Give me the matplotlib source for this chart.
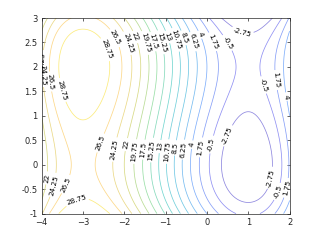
import numpy as np
import matplotlib
matplotlib.use('Agg')
import matplotlib.pyplot as plt
from matplotlib.colors import LinearSegmentedColormap

# f(x, y) = px(x) + py(y), cubic coefficients (highest power first)
x_coef = [1, 3, -9, 0]
y_coef = [-1, 3, 0, 0]
x_range = [-4, 2]
y_range = [-1, 3]
levels = [-2.75, -0.5, 1.75, 4, 6.25, 8.5, 10.75, 13, 15.25, 17.5,
          19.75, 22, 24.25, 26.5, 28.75]
x_ticks = [-4, -3, -2, -1, 0, 1, 2]
y_ticks = [-1, -0.5, 0, 0.5, 1, 1.5, 2, 2.5, 3]

# approx of matlab parula
parula = [(0.2422, 0.1504, 0.6603), (0.2803, 0.2782, 0.9221), (0.1707, 0.4784, 0.9772),
          (0.0689, 0.6396, 0.8237), (0.0900, 0.7300, 0.7000), (0.3300, 0.7900, 0.4300),
          (0.7400, 0.7600, 0.2000), (0.9900, 0.7400, 0.2300), (0.9769, 0.9839, 0.0805)]
# thin matlab lines look washed out, mix with white
fade = 0.4
parula = [tuple(c * (1 - fade) + fade for c in rgb) for rgb in parula]
cmap = LinearSegmentedColormap.from_list('parula', parula)

x = np.linspace(x_range[0], x_range[1], 300)
y = np.linspace(y_range[0], y_range[1], 300)
X, Y = np.meshgrid(x, y)
Z = np.polyval(x_coef, X) + np.polyval(y_coef, Y)

fig = plt.figure(figsize=(3.2, 2.4), dpi=100)
ax = fig.add_axes([0.13, 0.11, 0.775, 0.815])
cs = ax.contour(X, Y, Z, levels=levels, cmap=cmap, vmin=-5, vmax=31,
                linewidths=0.55)

# rough label spots as seen in the matlab figure
spots = [(-2.47, 2.35), (-3.49, 1.53), (-2.23, 2.59), (-1.91, 2.49), (-1.74, 2.61),
         (-1.5, 2.49), (-1.33, 2.51), (-1.13, 2.5), (-0.96, 2.61), (-0.77, 2.55),
         (-0.58, 2.59), (-0.36, 2.51), (-0.19, 2.65), (0.13, 2.51), (0.49, 2.49),
         (0.86, 2.71), (1.66, 1.73), (1.37, 1.63), (1.9, 1.39),
         (-3.95, 1.84), (-3.8, 1.7), (-3.97, 2.0),
         (-2.59, 0.45), (-2.23, 0.31), (-1.94, 0.41), (-1.74, 0.27), (-1.55, 0.31),
         (-1.33, 0.3), (-1.13, 0.37), (-0.96, 0.27), (-0.82, 0.35), (-0.58, 0.31),
         (-0.36, 0.41), (-0.11, 0.35), (0.13, 0.41), (0.57, 0.57), (1.54, -0.27),
         (1.71, -0.55), (1.9, -0.47),
         (-3.88, -0.27), (-3.73, -0.41), (-3.49, -0.37), (-3.13, -0.76)]
ax.clabel(cs, fmt=lambda v: ('%g' % v), fontsize=5.2, inline=True,
          inline_spacing=2, colors='k', manual=spots)

ax.set_xlim(x_range)
ax.set_ylim(y_range)
ax.set_xticks(x_ticks)
ax.set_yticks(y_ticks)
ax.set_yticklabels(['%g' % t for t in y_ticks])
ax.tick_params(direction='in', labelsize=6, length=2.5, width=0.5,
               colors='#262626', top=True, right=True, pad=3)
for s in ax.spines.values():
    s.set_linewidth(0.5)
    s.set_color('#262626')

plt.savefig('out.png', dpi=100)
